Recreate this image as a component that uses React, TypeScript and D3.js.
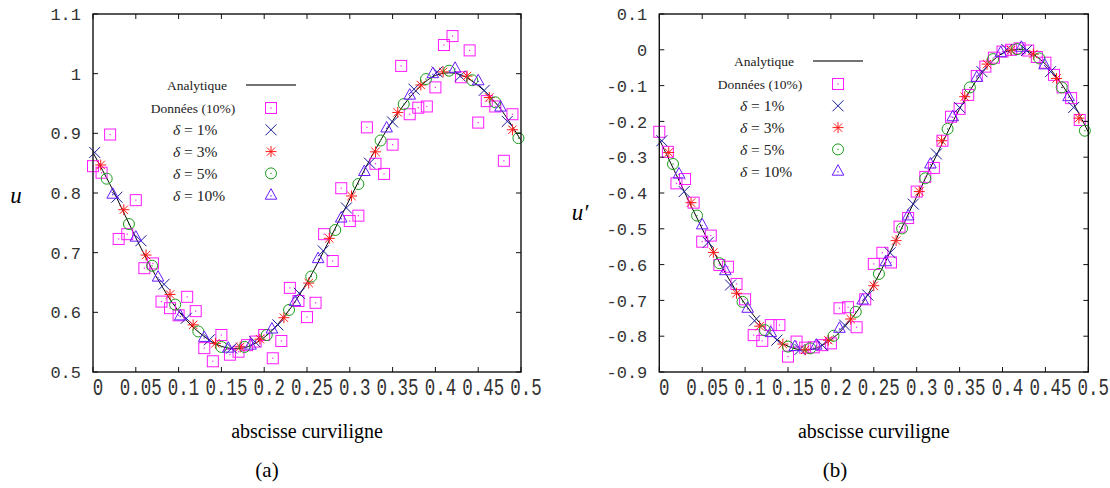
import React from 'react';
import * as d3 from 'd3';

// ---------- shared axis data ----------
const X_TICKS = [0, 0.05, 0.1, 0.15, 0.2, 0.25, 0.3, 0.35, 0.4, 0.45, 0.5];
const X_TICK_LABELS = ['0', '0.05', '0.1', '0.15', '0.2', '0.25', '0.3', '0.35', '0.4', '0.45', '0.5'];

const A_Y_TICKS = [0.5, 0.6, 0.7, 0.8, 0.9, 1.0, 1.1];
const A_Y_LABELS = ['0.5', '0.6', '0.7', '0.8', '0.9', '1', '1.1'];
const B_Y_TICKS = [-0.9, -0.8, -0.7, -0.6, -0.5, -0.4, -0.3, -0.2, -0.1, 0, 0.1];
const B_Y_LABELS = ['-0.9', '-0.8', '-0.7', '-0.6', '-0.5', '-0.4', '-0.3', '-0.2', '-0.1', '0', '0.1'];

const LEGEND_LABELS = ['Analytique', 'Données (10%)', '1%', '3%', '5%', '10%'];

// ---------- panel (a): u ----------
const A_CURVE_S = [0, 0.025, 0.05, 0.075, 0.1, 0.125, 0.15, 0.175, 0.2, 0.225, 0.25, 0.275, 0.3, 0.325, 0.35, 0.375, 0.4, 0.425, 0.45, 0.475, 0.5];
const A_CURVE_V = [0.868, 0.8, 0.725, 0.657, 0.602, 0.565, 0.543, 0.54, 0.558, 0.596, 0.65, 0.718, 0.79, 0.86, 0.921, 0.968, 0.997, 1.0, 0.98, 0.943, 0.888];

const DATA_S = [0, 0.01, 0.02, 0.03, 0.04, 0.05, 0.06, 0.07, 0.08, 0.09,
  0.1, 0.11, 0.12, 0.13, 0.14, 0.15, 0.16, 0.17, 0.18, 0.19,
  0.2, 0.21, 0.22, 0.23, 0.24, 0.25, 0.26, 0.27, 0.28, 0.29,
  0.3, 0.31, 0.32, 0.33, 0.34, 0.35, 0.36, 0.37, 0.38, 0.39,
  0.4, 0.41, 0.42, 0.43, 0.44, 0.45, 0.46, 0.47, 0.48, 0.49];
const A_DATA_V = [0.845, 0.834, 0.898, 0.723, 0.731, 0.788, 0.674, 0.682, 0.618, 0.607,
  0.595, 0.626, 0.602, 0.54, 0.518, 0.562, 0.529, 0.534, 0.545, 0.551,
  0.562, 0.523, 0.552, 0.641, 0.619, 0.592, 0.616, 0.731, 0.686, 0.808,
  0.753, 0.762, 0.91, 0.849, 0.832, 0.881, 1.013, 0.932, 0.943, 0.945,
  0.977, 1.048, 1.063, 0.994, 1.039, 0.918, 0.954, 0.945, 0.854, 0.932];

const A_D1_S = [0.002, 0.028, 0.056, 0.083, 0.109, 0.136, 0.162, 0.189, 0.216, 0.241, 0.269, 0.296, 0.323, 0.35, 0.375, 0.402, 0.429, 0.457, 0.484];
const A_D1_V = [0.868, 0.793, 0.72, 0.647, 0.59, 0.554, 0.54, 0.551, 0.579, 0.632, 0.703, 0.775, 0.85, 0.919, 0.974, 1.003, 0.996, 0.972, 0.92];
const A_D3_S = [0.009, 0.036, 0.062, 0.09, 0.117, 0.143, 0.172, 0.195, 0.223, 0.252, 0.276, 0.302, 0.33, 0.356, 0.383, 0.409, 0.437, 0.463, 0.49];
const A_D3_V = [0.847, 0.772, 0.696, 0.63, 0.579, 0.548, 0.542, 0.555, 0.591, 0.649, 0.724, 0.795, 0.869, 0.935, 0.981, 1.003, 0.996, 0.96, 0.906];
const A_D5_S = [0.016, 0.042, 0.069, 0.096, 0.123, 0.15, 0.177, 0.203, 0.229, 0.255, 0.283, 0.31, 0.336, 0.363, 0.389, 0.416, 0.443, 0.47, 0.497];
const A_D5_V = [0.824, 0.748, 0.678, 0.613, 0.568, 0.542, 0.542, 0.562, 0.604, 0.66, 0.738, 0.815, 0.888, 0.949, 0.991, 1.005, 0.989, 0.952, 0.892];
const A_D10_S = [0.023, 0.05, 0.076, 0.102, 0.13, 0.158, 0.184, 0.209, 0.236, 0.263, 0.29, 0.317, 0.343, 0.37, 0.397, 0.423, 0.45, 0.476];
const A_D10_V = [0.798, 0.726, 0.659, 0.594, 0.558, 0.54, 0.545, 0.572, 0.618, 0.69, 0.758, 0.836, 0.909, 0.964, 1.0, 1.009, 0.988, 0.944];

// ---------- panel (b): u' ----------
const B_CURVE_S = [0, 0.025, 0.05, 0.075, 0.1, 0.125, 0.15, 0.175, 0.2, 0.225, 0.25, 0.275, 0.3, 0.325, 0.35, 0.375, 0.4, 0.425, 0.45, 0.475, 0.5];
const B_CURVE_V = [-0.25, -0.375, -0.5, -0.615, -0.71, -0.783, -0.828, -0.838, -0.81, -0.748, -0.655, -0.535, -0.41, -0.285, -0.165, -0.068, -0.01, 0.0, -0.04, -0.118, -0.23];

const B_DATA_V = [-0.229, -0.285, -0.373, -0.361, -0.427, -0.536, -0.519, -0.601, -0.606, -0.654,
  -0.697, -0.797, -0.813, -0.769, -0.769, -0.857, -0.815, -0.832, -0.831, -0.825,
  -0.82, -0.722, -0.719, -0.775, -0.697, -0.598, -0.567, -0.594, -0.494, -0.47,
  -0.396, -0.355, -0.33, -0.254, -0.187, -0.165, -0.126, -0.073, -0.047, -0.022,
  -0.005, 0.0, 0.004, -0.002, -0.02, -0.036, -0.07, -0.105, -0.135, -0.196];

const B_D1_S = [0.003, 0.029, 0.057, 0.083, 0.111, 0.137, 0.164, 0.19, 0.216, 0.243, 0.269, 0.296, 0.323, 0.35, 0.376, 0.405, 0.428, 0.456, 0.483];
const B_D1_V = [-0.254, -0.396, -0.538, -0.657, -0.757, -0.811, -0.837, -0.825, -0.769, -0.685, -0.567, -0.431, -0.291, -0.161, -0.061, 0.001, -0.002, -0.061, -0.161];
const B_D3_S = [0.011, 0.037, 0.063, 0.09, 0.117, 0.144, 0.17, 0.197, 0.223, 0.25, 0.276, 0.303, 0.329, 0.356, 0.382, 0.41, 0.436, 0.463, 0.489];
const B_D3_V = [-0.287, -0.427, -0.566, -0.68, -0.772, -0.822, -0.838, -0.811, -0.752, -0.659, -0.533, -0.396, -0.254, -0.131, -0.04, -0.001, -0.012, -0.08, -0.191];
const B_D5_S = [0.016, 0.044, 0.07, 0.097, 0.123, 0.15, 0.176, 0.203, 0.229, 0.256, 0.283, 0.31, 0.336, 0.362, 0.389, 0.417, 0.443, 0.469, 0.496];
const B_D5_V = [-0.319, -0.463, -0.596, -0.704, -0.783, -0.829, -0.834, -0.799, -0.732, -0.626, -0.499, -0.359, -0.221, -0.105, -0.026, 0.002, -0.024, -0.105, -0.226];
const B_D10_S = [0.023, 0.05, 0.077, 0.103, 0.13, 0.158, 0.183, 0.21, 0.237, 0.264, 0.29, 0.316, 0.342, 0.37, 0.398, 0.422, 0.449, 0.477];
const B_D10_V = [-0.347, -0.489, -0.617, -0.722, -0.79, -0.829, -0.825, -0.778, -0.699, -0.592, -0.464, -0.319, -0.187, -0.077, -0.008, 0.007, -0.042, -0.131];

// ---------- styles ----------
const COL_DATA = '#ff1aff';
const COL_D1 = '#1a1a9e';
const COL_D3 = '#ff1a1a';
const COL_D5 = '#1a9e1a';
const COL_D10 = '#6a1aff';
const MONO = '"Liberation Mono", "DejaVu Sans Mono", monospace';
const SERIF = '"Liberation Serif", "DejaVu Serif", serif';

type MarkerType = 'square' | 'cross' | 'star' | 'circle' | 'triangle';

function Marker({ type, x, y }: { type: MarkerType; x: number; y: number }) {
  const sw = 1;
  if (type === 'square') {
    return (
      <g transform={`translate(${x},${y})`}>
        <rect x={-5.5} y={-5.5} width={11} height={11} fill="none" stroke={COL_DATA} strokeWidth={sw} />
        <rect x={-0.6} y={-0.6} width={1.2} height={1.2} fill={COL_DATA} />
      </g>
    );
  }
  if (type === 'cross') {
    return (
      <g transform={`translate(${x},${y})`} stroke={COL_D1} strokeWidth={sw}>
        <line x1={-5.5} y1={-5.5} x2={5.5} y2={5.5} />
        <line x1={-5.5} y1={5.5} x2={5.5} y2={-5.5} />
      </g>
    );
  }
  if (type === 'star') {
    return (
      <g transform={`translate(${x},${y})`} stroke={COL_D3} strokeWidth={sw}>
        <line x1={-5.5} y1={0} x2={5.5} y2={0} />
        <line x1={0} y1={-5.5} x2={0} y2={5.5} />
        <line x1={-4.2} y1={-4.2} x2={4.2} y2={4.2} />
        <line x1={-4.2} y1={4.2} x2={4.2} y2={-4.2} />
      </g>
    );
  }
  if (type === 'circle') {
    return (
      <g transform={`translate(${x},${y})`}>
        <circle r={5.5} fill="none" stroke={COL_D5} strokeWidth={sw} />
        <rect x={-0.6} y={-0.6} width={1.2} height={1.2} fill={COL_D5} />
      </g>
    );
  }
  return (
    <g transform={`translate(${x},${y})`}>
      <polygon points="0,-6.5 5.8,4 -5.8,4" fill="none" stroke={COL_D10} strokeWidth={sw} />
      <rect x={-0.6} y={0} width={1.2} height={1.2} fill={COL_D10} />
    </g>
  );
}

type Series = { s: number[]; v: number[]; type: MarkerType };

type PanelProps = {
  left: number; right: number; top: number; bottom: number;
  yDomain: [number, number];
  yTicks: number[]; yLabels: string[];
  curveS: number[]; curveV: number[];
  series: Series[];
  legendX: number; legendY: number;
  yTitle: string; yTitleX: number; yTitleY: number;
  caption: string; captionX: number;
};

function Panel(p: PanelProps) {
  const x = d3.scaleLinear().domain([0, 0.5]).range([p.left, p.right]);
  const y = d3.scaleLinear().domain(p.yDomain).range([p.bottom, p.top]);
  const line = d3.line<number>()
    .x((_, i) => x(p.curveS[i]))
    .y((d) => y(d))
    .curve(d3.curveCatmullRom.alpha(0.5));
  const tick = 5;
  const midX = (p.left + p.right) / 2;
  const lx = p.legendX;
  const ly = p.legendY;
  const rowH = 21.8;
  const markX = lx + 99;
  const legendTypes: MarkerType[] = ['square', 'cross', 'star', 'circle', 'triangle'];
  return (
    <g>
      {/* analytic curve */}
      <path d={line(p.curveV) || ''} fill="none" stroke="#000" strokeWidth={1} />
      {/* markers */}
      {p.series.map((se, k) => (
        <g key={k}>
          {se.v.map((v, i) => (
            <Marker key={i} type={se.type} x={x(se.s[i])} y={y(v)} />
          ))}
        </g>
      ))}
      {/* frame */}
      <rect x={p.left} y={p.top} width={p.right - p.left} height={p.bottom - p.top} fill="none" stroke="#111" strokeWidth={1.4} />
      {/* x ticks */}
      {X_TICKS.map((t, i) => (
        <g key={'xt' + i}>
          <line x1={x(t)} x2={x(t)} y1={p.bottom} y2={p.bottom - tick} stroke="#111" strokeWidth={1} />
          <line x1={x(t)} x2={x(t)} y1={p.top} y2={p.top + tick} stroke="#111" strokeWidth={1} />
          <text
            transform={`translate(${x(t) + 5},${p.bottom + 23}) scale(1,1.35)`}
            textAnchor="middle"
            fontFamily={MONO}
            fontSize={17.5}
            fill="#333"
          >
            {X_TICK_LABELS[i]}
          </text>
        </g>
      ))}
      {/* y ticks */}
      {p.yTicks.map((t, i) => (
        <g key={'yt' + i}>
          <line x1={p.left} x2={p.left + tick} y1={y(t)} y2={y(t)} stroke="#111" strokeWidth={1} />
          <line x1={p.right} x2={p.right - tick} y1={y(t)} y2={y(t)} stroke="#111" strokeWidth={1} />
          <text
            x={p.left - 12}
            y={y(t)}
            dy="0.36em"
            textAnchor="end"
            fontFamily={MONO}
            fontSize={17}
            fill="#333"
          >
            {p.yLabels[i]}
          </text>
        </g>
      ))}
      {/* legend */}
      <g fontFamily={SERIF} fill="#222">
        <text x={lx + 25} y={ly} dy="0.35em" textAnchor="middle" fontSize={13.5}>{LEGEND_LABELS[0]}</text>
        <line x1={lx + 74} x2={lx + 124} y1={ly} y2={ly} stroke="#444" strokeWidth={1.5} />
        <text x={lx + 21} y={ly + 23} dy="0.35em" textAnchor="middle" fontSize={13.5}>{LEGEND_LABELS[1]}</text>
        {[2, 3, 4, 5].map((k) => (
          <text key={k} x={lx + 1} y={ly + 23 + (k - 1) * rowH} dy="0.35em" fontSize={15.5}>
            <tspan fontStyle="italic">δ</tspan>
            <tspan>{' = ' + LEGEND_LABELS[k]}</tspan>
          </text>
        ))}
        {legendTypes.map((t, k) => (
          <Marker key={t} type={t} x={markX} y={ly + 23 + k * rowH} />
        ))}
      </g>
      {/* axis titles */}
      <text x={midX} y={p.bottom + 66} textAnchor="middle" fontFamily={SERIF} fontSize={20} fill="#000">
        abscisse curviligne
      </text>
      <text x={p.yTitleX} y={p.yTitleY} dy="0.35em" textAnchor="middle" fontFamily={SERIF} fontStyle="italic" fontSize={23} fill="#000">
        {p.yTitle}
      </text>
      <text x={p.captionX} y={p.bottom + 105} textAnchor="middle" fontFamily={SERIF} fontSize={21} fill="#000">
        {p.caption}
      </text>
    </g>
  );
}

export default function App() {
  return (
    <svg
      width={1110}
      height={488}
      style={{ position: 'absolute', left: 0, top: 0, background: '#fff' }}
    >
      <rect width={1110} height={488} fill="#fff" />
      <Panel
        left={93} right={521} top={14} bottom={372}
        yDomain={[0.5, 1.1]} yTicks={A_Y_TICKS} yLabels={A_Y_LABELS}
        curveS={A_CURVE_S} curveV={A_CURVE_V}
        series={[
          { s: DATA_S, v: A_DATA_V, type: 'square' },
          { s: A_D1_S, v: A_D1_V, type: 'cross' },
          { s: A_D3_S, v: A_D3_V, type: 'star' },
          { s: A_D5_S, v: A_D5_V, type: 'circle' },
          { s: A_D10_S, v: A_D10_V, type: 'triangle' },
        ]}
        legendX={172} legendY={85}
        yTitle="u" yTitleX={16} yTitleY={195}
        caption="(a)" captionX={267}
      />
      <Panel
        left={659.3} right={1088.3} top={14} bottom={372}
        yDomain={[-0.9, 0.1]} yTicks={B_Y_TICKS} yLabels={B_Y_LABELS}
        curveS={B_CURVE_S} curveV={B_CURVE_V}
        series={[
          { s: DATA_S, v: B_DATA_V, type: 'square' },
          { s: B_D1_S, v: B_D1_V, type: 'cross' },
          { s: B_D3_S, v: B_D3_V, type: 'star' },
          { s: B_D5_S, v: B_D5_V, type: 'circle' },
          { s: B_D10_S, v: B_D10_V, type: 'triangle' },
        ]}
        legendX={739} legendY={61}
        yTitle={"u\u2032"} yTitleX={580} yTitleY={212}
        caption="(b)" captionX={835}
      />
    </svg>
  );
}
